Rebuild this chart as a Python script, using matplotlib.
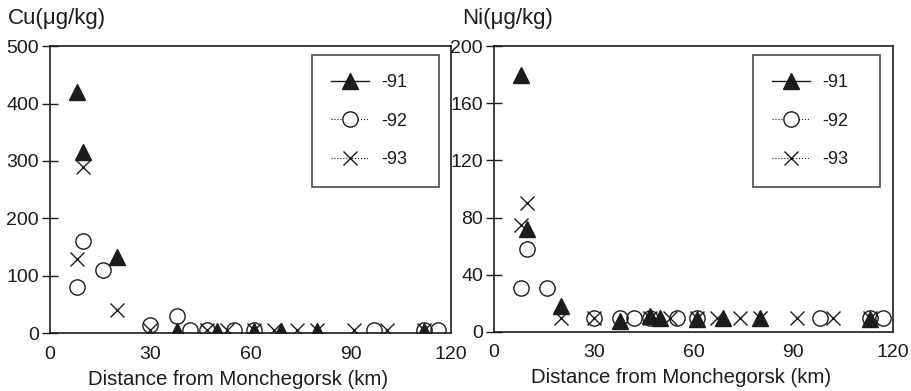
import matplotlib.pyplot as plt
from matplotlib.lines import Line2D

plt.rcParams['font.family'] = ['Liberation Sans', 'DejaVu Sans']

# Cu concentrations (µg/kg) vs distance (km)
cu91_x = [8, 10, 20, 38, 50, 61, 69, 80, 112]
cu91_y = [420, 315, 133, 3, 3, 3, 3, 3, 3]
cu92_x = [8, 10, 16, 30, 38, 42, 47, 55, 61, 97, 112, 116]
cu92_y = [80, 160, 110, 15, 30, 5, 5, 5, 5, 5, 5, 5]
cu93_x = [8, 10, 20, 30, 47, 53, 61, 67, 74, 80, 91, 101, 112]
cu93_y = [130, 290, 40, 5, 5, 5, 5, 5, 5, 5, 5, 5, 5]

# Ni concentrations (µg/kg) vs distance (km)
ni91_x = [8, 10, 20, 38, 47, 50, 61, 69, 80, 113]
ni91_y = [180, 72, 18, 8, 11, 10, 9, 10, 10, 9]
ni92_x = [8, 10, 16, 30, 38, 42, 47, 55, 61, 98, 113, 117]
ni92_y = [31, 58, 31, 10, 10, 10, 10, 10, 10, 10, 10, 10]
ni93_x = [8, 10, 20, 30, 47, 53, 61, 67, 74, 80, 91, 102, 113]
ni93_y = [75, 90, 10, 10, 10, 10, 10, 10, 10, 10, 10, 10, 10]

years = ['-91', '-92', '-93']
ink = '#1c1c1c'

fig = plt.figure(figsize=(9.12, 3.91), dpi=100)
ax1 = fig.add_axes([0.0548, 0.148, 0.4397, 0.734])
ax2 = fig.add_axes([0.5417, 0.151, 0.4375, 0.731])


def draw(ax, s91, s92, s93, ymax, ystep, title, title_x, leg_box):
    ax.plot(*s93, linestyle='none', marker='x', ms=10, mew=1.0, color=ink)
    ax.plot(*s92, linestyle='none', marker='o', ms=11, mew=1.0, mfc='none', mec=ink)
    ax.plot(*s91, linestyle='none', marker='^', ms=11, color=ink)
    ax.set_xlim(0, 120)
    ax.set_ylim(0, ymax)
    ax.set_xticks([0, 30, 60, 90, 120])
    ax.set_yticks(range(0, ymax + 1, ystep))
    ax.tick_params(axis='x', length=0, pad=9, labelsize=14, colors=ink)
    ax.tick_params(axis='y', direction='inout', length=12, width=1.0,
                   labelsize=14, colors=ink, pad=2)
    for sp in ax.spines.values():
        sp.set_color(ink)
        sp.set_linewidth(1.2)
    ax.set_xlabel('Distance from Monchegorsk (km)', fontsize=14.7, color=ink, labelpad=5)
    ax.xaxis.label.set_x(0.47)
    ax.text(title_x, 1.06, title, transform=ax.transAxes, fontsize=16, color=ink,
            ha='left', va='bottom')

    handles = [
        Line2D([], [], color=ink, lw=1.0, ls='-', marker='^', ms=11),
        Line2D([], [], color=ink, lw=0.8, ls=':', marker='o', ms=11, mfc='white'),
        Line2D([], [], color=ink, lw=0.8, ls=':', marker='x', ms=10),
    ]
    leg = ax.legend(handles, years, loc='upper left', bbox_to_anchor=leg_box,
                    mode='expand', fontsize=13, frameon=True, fancybox=False,
                    handlelength=2.1, labelspacing=1.2, borderpad=1.05,
                    handletextpad=0.7, borderaxespad=0)
    leg.get_frame().set_edgecolor(ink)
    leg.get_frame().set_linewidth(1.2)
    for t in leg.get_texts():
        t.set_color(ink)


draw(ax1, (cu91_x, cu91_y), (cu92_x, cu92_y), (cu93_x, cu93_y), 500, 100,
     'Cu(μg/kg)', -0.105, (0.653, 0.0, 0.317, 0.969))
draw(ax2, (ni91_x, ni91_y), (ni92_x, ni92_y), (ni93_x, ni93_y), 200, 40,
     'Ni(μg/kg)', -0.08, (0.649, 0.0, 0.318, 0.969))

fig.savefig('out.png', dpi=100)
